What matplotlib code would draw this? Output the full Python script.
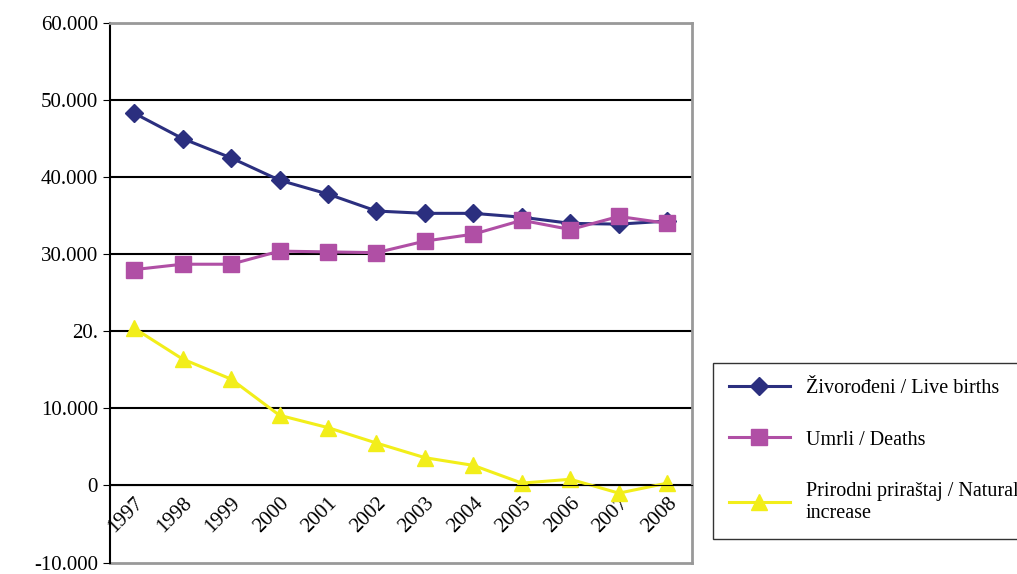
import matplotlib
matplotlib.use("Agg")
import matplotlib.pyplot as plt

years = ["1997","1998","1999","2000","2001","2002","2003","2004","2005","2006","2007","2008"]
births = [48300,45000,42500,39600,37800,35600,35300,35300,34800,34000,33900,34300]
deaths = [28000,28700,28700,30400,30300,30200,31700,32600,34400,33200,34900,34000]
natural = [20400,16400,13800,9100,7500,5500,3600,2600,300,800,-1000,300]
yticks = [-10000,0,10000,20000,30000,40000,50000,60000]
ylabels = ["-10.000","0","10.000","20.","30.000","40.000","50.000","60.000"]

plt.rcParams['font.family'] = ['Liberation Serif']
fig = plt.figure(figsize=(10.17,5.74), dpi=100)
ax = fig.add_axes([0.108,0.02,0.572,0.94])
x = list(range(1,13))
ax.plot(x, births, color='#2B2F7F', marker='D', ms=9, lw=2.2, label='Živorođeni / Live births')
ax.plot(x, deaths, color='#B04FA5', marker='s', ms=11, lw=2.2, label='Umrli / Deaths')
ax.plot(x, natural, color='#F2EE1A', marker='^', ms=12, lw=2.2, label='Prirodni priraštaj / Natural\nincrease')
ax.set_xlim(0.5,12.5)
ax.set_ylim(-10000,60000)
ax.set_yticks(yticks)
ax.set_yticklabels(ylabels, fontsize=15)
for t in yticks[1:]:
    ax.axhline(t, color='black', lw=1.5, zorder=0)
ax.spines['bottom'].set_position(('data',0))
ax.spines['bottom'].set_color('black')
ax.spines['left'].set_color('black')
ax.spines['left'].set_linewidth(1.5)
for s in ['top','right']:
    ax.spines[s].set_color('#999999')
    ax.spines[s].set_linewidth(2)
ax.set_xticks(x)
ax.set_xticklabels(years, rotation=45, ha='right', rotation_mode='anchor', fontsize=15)
ax.tick_params(axis='x', length=0, pad=6)
ax.tick_params(axis='y', direction='out', length=5)
ax.plot([0.5,12.5],[-10000,-10000], color='#999999', lw=2, clip_on=False)
leg = fig.legend(loc='upper left', bbox_to_anchor=(713/1017, 1-363/574), fontsize=14.5,
                 frameon=True, fancybox=False, edgecolor='black', labelspacing=1.6,
                 handlelength=3, borderpad=0.8, borderaxespad=0)
leg.get_frame().set_linewidth(1)
fig.savefig("out.png", dpi=100)
